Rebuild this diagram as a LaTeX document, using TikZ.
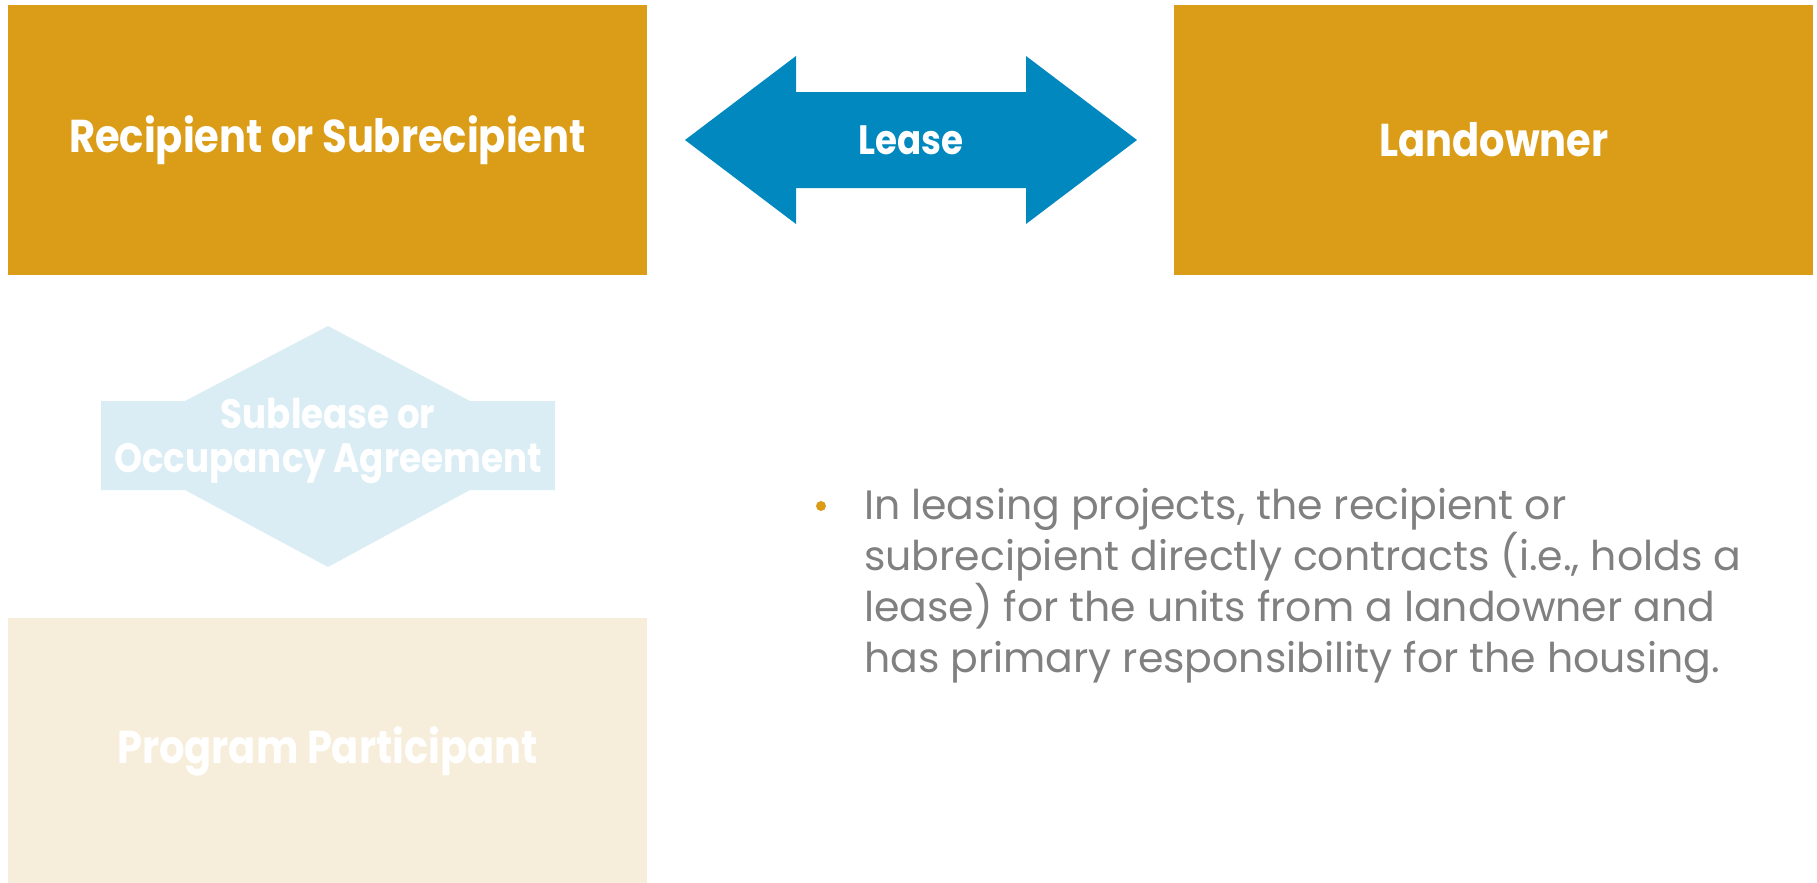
\documentclass[tikz,border=0pt]{standalone}
\usepackage{fontspec}
\setmainfont{Poppins}
\newfontfamily\boxfont{Poppins}[FakeStretch=0.87]
\newfontfamily\bodyfont{Poppins}
\usetikzlibrary{positioning}
\definecolor{goldbox}{HTML}{DB9C17}
\definecolor{leaseblue}{HTML}{0088BF}
\definecolor{paleblue}{HTML}{DAEDF4}
\definecolor{palegold}{HTML}{F6EEDB}
\definecolor{bodygrey}{HTML}{808080}

\begin{document}
\begin{tikzpicture}[x=1pt,y=-1pt,
  box/.style={fill=goldbox, minimum width=639pt, minimum height=270pt, inner sep=0pt,
    text=white, font=\boxfont\bfseries\fontsize{46}{52}\selectfont},
  tag/.style={text=white, inner sep=0pt, align=center,
    font=\boxfont\bfseries\fontsize{41}{44}\selectfont},
  body/.style={text=bodygrey, inner sep=0pt, align=left,
    font=\bodyfont\fontsize{41}{51}\selectfont}]

\useasboundingbox (0,0) rectangle (1817,883);

% Partes do contrato
\node[box] (rec) at (327.5,140) {Recipient or Subrecipient};
\node[box, right=527pt of rec] (land) {Landowner};
\node[box, fill=palegold, minimum height=265pt, below=343pt of rec] (part) {Program Participant};

% Seta dupla do contrato de locação
\fill[leaseblue] (685,140) -- (796,56) -- (796,92) -- (1026,92) -- (1026,56) -- (1137,140)
  -- (1026,224) -- (1026,188) -- (796,188) -- (796,224) -- cycle;
\node[tag] (lease) at (911,140) {Lease};

% Subarrendamento (esmaecido)
\fill[paleblue] (101,401) -- (185,401) -- (328,326) -- (470,401) -- (555,401) -- (555,490)
  -- (470,490) -- (328,567) -- (185,490) -- (101,490) -- cycle;
\node[tag, anchor=base] (sub) at (328,472) {Sublease or\\Occupancy Agreement};

% Texto com marcador
\node[circle, fill=goldbox, inner sep=0pt, minimum size=10pt] (dot) at (821,506) {};
\node[body, anchor=base west] (note) at (864,672) {In leasing projects, the recipient or\\
  subrecipient directly contracts (i.e., holds a\\
  lease) for the units from a landowner and\\
  has primary responsibility for the housing.};

\end{tikzpicture}
\end{document}
